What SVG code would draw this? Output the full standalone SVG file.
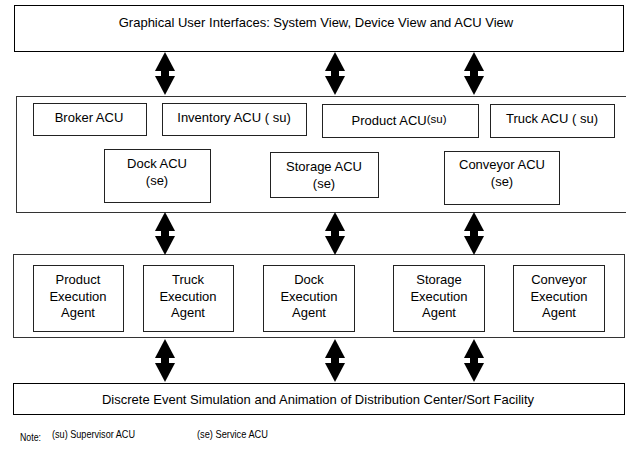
<svg xmlns="http://www.w3.org/2000/svg" width="626" height="451" viewBox="0 0 626 451">
<defs>
<style>
rect{fill:#fff;stroke:#000;stroke-width:1}
.outer{stroke:#333}
.inner{stroke:#222}
text{font-family:"Liberation Sans",Arial,sans-serif;font-size:13px;fill:#000;text-anchor:middle}
.note{font-size:11px;text-anchor:start}
.arr{fill:#000}
</style>
<g id="dbl">
<polygon points="0,0 10,19 -10,19"/>
<rect x="-4" y="19" width="8" height="6" style="fill:#000;stroke:none"/>
<polygon points="-10,24 10,24 0,43"/>
</g>
</defs>
<rect width="626" height="451" style="fill:#fff;stroke:none"/>
<g id="gui">
<rect x="14.5" y="5.5" width="609" height="46"/>
<text x="316" y="27" font-size="14">Graphical User Interfaces: System View, Device View and ACU View</text>
</g>
<g id="acu-layer">
<rect class="outer" x="16.5" y="96.5" width="610" height="116"/>
</g>
<g id="broker"><rect class="inner" x="33.5" y="103.5" width="113" height="32"/><text x="89" y="122">Broker ACU</text></g>
<g id="inventory"><rect class="inner" x="162.5" y="103.5" width="144" height="32"/><text x="234" y="122">Inventory ACU ( su)</text></g>
<g id="product"><rect class="inner" x="322.5" y="104.5" width="156" height="33"/><text x="399" y="125">Product ACU<tspan font-size="11.5" dy="-2">(su)</tspan></text></g>
<g id="truck"><rect class="inner" x="490.5" y="104.5" width="124" height="33"/><text x="552" y="123">Truck ACU ( su)</text></g>
<g id="dock"><rect class="inner" x="104.5" y="149.5" width="106" height="53"/><text x="157" y="168">Dock ACU</text><text x="157" y="185">(se)</text></g>
<g id="storage"><rect class="inner" x="270.5" y="152.5" width="108" height="45"/><text x="324" y="171">Storage ACU</text><text x="324" y="188">(se)</text></g>
<g id="conveyor"><rect class="inner" x="444.5" y="151.5" width="115" height="53"/><text x="502" y="169">Conveyor ACU</text><text x="502" y="186">(se)</text></g>
<g id="agent-layer">
<rect class="outer" x="13.5" y="254.5" width="611" height="83"/>
</g>
<g id="product-agent"><rect class="inner" x="33.5" y="265.5" width="90" height="66"/><text x="78" y="284">Product</text><text x="78" y="301">Execution</text><text x="78" y="317">Agent</text></g>
<g id="truck-agent"><rect class="inner" x="143.5" y="265.5" width="90" height="66"/><text x="188" y="284">Truck</text><text x="188" y="301">Execution</text><text x="188" y="317">Agent</text></g>
<g id="dock-agent"><rect class="inner" x="263.5" y="265.5" width="91" height="66"/><text x="309" y="284">Dock</text><text x="309" y="301">Execution</text><text x="309" y="317">Agent</text></g>
<g id="storage-agent"><rect class="inner" x="393.5" y="265.5" width="91" height="66"/><text x="439" y="284">Storage</text><text x="439" y="301">Execution</text><text x="439" y="317">Agent</text></g>
<g id="conveyor-agent"><rect class="inner" x="513.5" y="265.5" width="91" height="66"/><text x="559" y="284">Conveyor</text><text x="559" y="301">Execution</text><text x="559" y="317">Agent</text></g>
<g id="simulation">
<rect x="13.5" y="383.5" width="611" height="31"/>
<text x="318" y="404">Discrete Event Simulation and Animation of Distribution Center/Sort Facility</text>
</g>
<g id="connectors" class="arr">
<use href="#dbl" x="165" y="52"/>
<use href="#dbl" x="335" y="52"/>
<use href="#dbl" x="474" y="52"/>
<use href="#dbl" x="165" y="212"/>
<use href="#dbl" x="335" y="212"/>
<use href="#dbl" x="474" y="212"/>
<use href="#dbl" x="165" y="339"/>
<use href="#dbl" x="335" y="339"/>
<use href="#dbl" x="474" y="339"/>
</g>
<g id="note">
<text class="note" x="20" y="441" textLength="21" lengthAdjust="spacingAndGlyphs">Note:</text>
<text class="note" x="52" y="438" textLength="83" lengthAdjust="spacingAndGlyphs">(su) Supervisor ACU</text>
<text class="note" x="197" y="438" textLength="71" lengthAdjust="spacingAndGlyphs">(se) Service ACU</text>
</g>
</svg>
